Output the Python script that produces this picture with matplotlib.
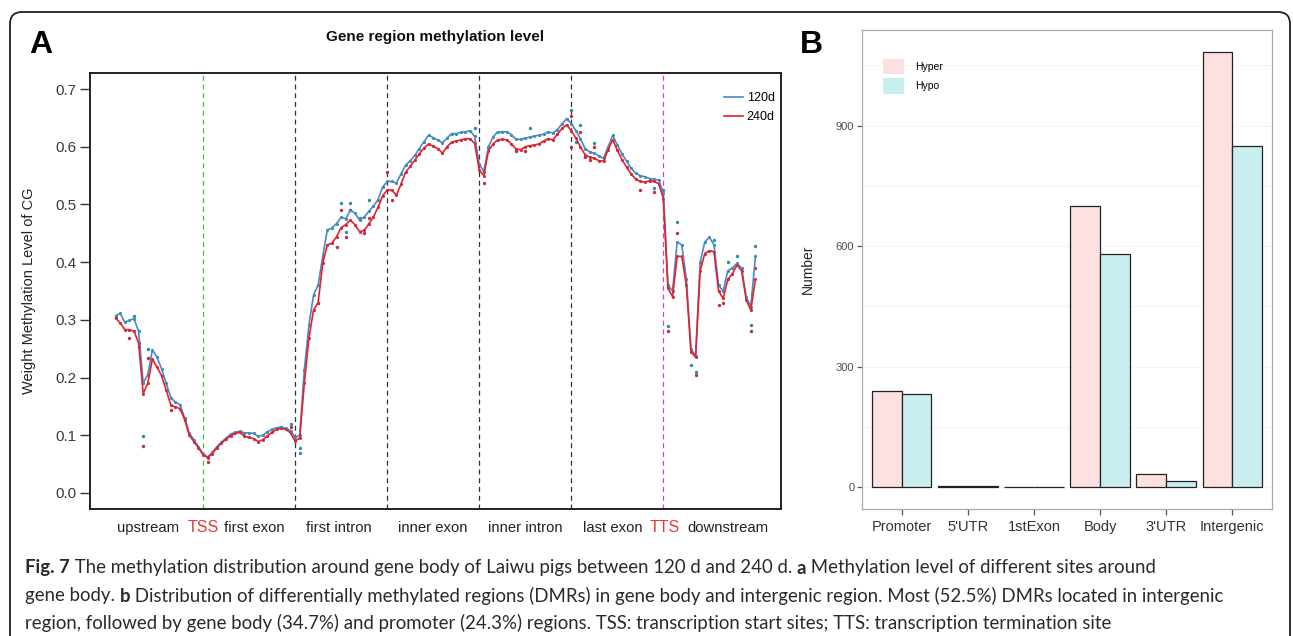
import matplotlib
matplotlib.use("Agg")
import matplotlib.pyplot as plt
from matplotlib.patches import FancyBboxPatch
import matplotlib.transforms as mtransforms
import numpy as np

plt.rcParams["font.family"] = ["Liberation Sans", "DejaVu Sans"]

# ---- panel A data: 140 bins across the gene model ----
bins = np.arange(1, 141)

meth_120d = [
    0.307, 0.311, 0.296, 0.299, 0.302, 0.280, 0.190, 0.205, 0.248, 0.235,
    0.215, 0.190, 0.165, 0.157, 0.153, 0.130, 0.104, 0.092, 0.080, 0.068,
    0.062, 0.070, 0.080, 0.088, 0.095, 0.102, 0.105, 0.107, 0.104, 0.104,
    0.103, 0.098, 0.100, 0.106, 0.110, 0.113, 0.114, 0.112, 0.108, 0.096,
    0.100, 0.213, 0.291, 0.343, 0.360, 0.410, 0.456, 0.459, 0.467, 0.478,
    0.475, 0.490, 0.485, 0.473, 0.478, 0.488, 0.497, 0.508, 0.530, 0.540,
    0.540, 0.537, 0.553, 0.568, 0.576, 0.585, 0.597, 0.609, 0.620, 0.616,
    0.612, 0.607, 0.615, 0.623, 0.623, 0.625, 0.626, 0.628, 0.618, 0.570,
    0.557, 0.600, 0.617, 0.626, 0.626, 0.626, 0.621, 0.613, 0.613, 0.615,
    0.617, 0.619, 0.620, 0.622, 0.626, 0.624, 0.630, 0.640, 0.649, 0.640,
    0.628, 0.614, 0.597, 0.591, 0.589, 0.584, 0.580, 0.600, 0.620, 0.603,
    0.588, 0.575, 0.563, 0.554, 0.550, 0.548, 0.545, 0.544, 0.542, 0.520,
    0.360, 0.350, 0.435, 0.430, 0.370, 0.250, 0.237, 0.400, 0.435, 0.443,
    0.430, 0.360, 0.350, 0.385, 0.390, 0.398, 0.390, 0.340, 0.323, 0.410,
]

meth_240d = [
    0.303, 0.295, 0.283, 0.283, 0.280, 0.260, 0.172, 0.190, 0.232, 0.218,
    0.203, 0.178, 0.152, 0.149, 0.146, 0.127, 0.100, 0.089, 0.078, 0.066,
    0.061, 0.068, 0.078, 0.086, 0.093, 0.099, 0.103, 0.105, 0.098, 0.096,
    0.094, 0.089, 0.092, 0.099, 0.105, 0.110, 0.112, 0.110, 0.104, 0.090,
    0.095, 0.190, 0.268, 0.317, 0.330, 0.398, 0.430, 0.433, 0.444, 0.460,
    0.465, 0.473, 0.465, 0.453, 0.455, 0.466, 0.478, 0.495, 0.515, 0.525,
    0.525, 0.516, 0.535, 0.556, 0.566, 0.577, 0.588, 0.598, 0.605, 0.601,
    0.597, 0.589, 0.600, 0.608, 0.610, 0.612, 0.614, 0.614, 0.606, 0.560,
    0.550, 0.593, 0.605, 0.612, 0.613, 0.612, 0.605, 0.596, 0.595, 0.600,
    0.602, 0.603, 0.605, 0.610, 0.614, 0.612, 0.622, 0.632, 0.638, 0.628,
    0.615, 0.600, 0.586, 0.582, 0.580, 0.576, 0.575, 0.595, 0.612, 0.594,
    0.578, 0.565, 0.553, 0.544, 0.540, 0.539, 0.541, 0.540, 0.536, 0.510,
    0.355, 0.340, 0.410, 0.410, 0.360, 0.245, 0.235, 0.385, 0.415, 0.420,
    0.418, 0.350, 0.337, 0.370, 0.380, 0.395, 0.385, 0.335, 0.317, 0.370,
]

# raw points that sit away from the smoothed lines
dots_120d_x = [5, 7, 8, 39, 41, 41, 50, 51, 52, 54, 56, 79, 91, 100, 101, 102,
               105, 118, 120, 121, 123, 126, 127, 131, 134, 136, 139, 140]
dots_120d_y = [0.307, 0.099, 0.250, 0.120, 0.077, 0.069, 0.503, 0.453, 0.503,
               0.476, 0.507, 0.632, 0.632, 0.664, 0.609, 0.638, 0.606, 0.528,
               0.525, 0.290, 0.470, 0.222, 0.210, 0.438, 0.401, 0.410, 0.291,
               0.428]
dots_240d_x = [4, 6, 7, 8, 13, 21, 39, 45, 49, 50, 51, 52, 55, 56, 60, 61, 81,
               88, 90, 100, 100, 102, 103, 104, 105, 115, 118, 121, 123, 127,
               132, 133, 139, 140]
dots_240d_y = [0.268, 0.253, 0.082, 0.233, 0.144, 0.054, 0.115, 0.329, 0.427,
               0.490, 0.444, 0.490, 0.450, 0.476, 0.557, 0.508, 0.537, 0.592,
               0.592, 0.653, 0.600, 0.626, 0.583, 0.577, 0.600, 0.525, 0.522,
               0.280, 0.450, 0.204, 0.326, 0.330, 0.281, 0.390]

boundaries = [20, 40, 60, 80, 100, 120]
boundary_colors = ["#44c044", "#333333", "#333333", "#333333", "#333333", "#d040d8"]

region_labels = ["upstream", "TSS", "first exon", "first intron", "inner exon",
                 "inner intron", "last exon", "TTS", "downstream"]
region_label_pos = [8, 20, 31.2, 49.5, 70, 90, 109, 120.3, 134]
region_label_colors = ["#222222", "#e03a3a", "#222222", "#222222", "#222222",
                       "#222222", "#222222", "#e03a3a", "#222222"]

# ---- panel B data ----
regions = ["Promoter", "5'UTR", "1stExon", "Body", "3'UTR", "Intergenic"]
dmr_hyper = [240, 3, 1, 700, 32, 1084]
dmr_hypo = [231, 2, 1, 581, 16, 850]

blue = "#4a88c8"
red = "#e8202a"
blue_dot = "#2a8e9c"
red_dot = "#b8304a"

fig = plt.figure(figsize=(12.93, 6.36), dpi=100)
W, H = 1293, 636

# ---------------- panel A ----------------
axA = fig.add_axes([90 / W, 1 - 509 / H, 691 / W, 436 / H])
for b, c in zip(boundaries, boundary_colors):
    axA.axvline(b, color=c, linestyle=(0, (4, 3)), linewidth=0.9, zorder=1)

axA.scatter(bins, meth_120d, s=5, color=blue_dot, linewidths=0, zorder=2)
axA.scatter(bins, meth_240d, s=5, color=red_dot, linewidths=0, zorder=2)
axA.scatter(dots_120d_x, dots_120d_y, s=6, color=blue_dot, linewidths=0, zorder=2)
axA.scatter(dots_240d_x, dots_240d_y, s=6, color=red_dot, linewidths=0, zorder=2)
axA.plot(bins, meth_120d, color=blue, linewidth=1.2, label="120d", zorder=3)
axA.plot(bins, meth_240d, color=red, linewidth=1.2, label="240d", zorder=3)

axA.set_xlim(1 - 0.04 * 139, 140 + 0.04 * 139)
axA.set_ylim(-0.028, 0.728)
axA.set_xticks([])
axA.set_yticks(np.arange(0, 0.71, 0.1), [f"{v:.1f}" for v in np.arange(0, 0.71, 0.1)])
axA.tick_params(axis="y", direction="out", length=7, width=1.0, color="#333333",
                labelsize=11, labelcolor="#3a3a3a", pad=3)
for sp in axA.spines.values():
    sp.set_linewidth(1.4)
    sp.set_color("#222222")
axA.set_ylabel("Weight Methylation Level of CG", fontsize=10.5, color="#222222")
axA.yaxis.set_label_coords((36 - 90) / 691, 0.5)

trans = mtransforms.blended_transform_factory(axA.transData, axA.transAxes)
for lab, xp, col in zip(region_labels, region_label_pos, region_label_colors):
    axA.text(xp, (509 - 528) / 436, lab, transform=trans, ha="center", va="center",
             fontsize=10.7 if lab not in ("TSS", "TTS") else 11.5, color=col)

axA.legend(loc="upper right", frameon=False, fontsize=9, handlelength=1.5,
           handletextpad=0.3, labelspacing=0.55, bbox_to_anchor=(1.0, 0.97),
           borderaxespad=0.1)

fig.text(435 / W, 1 - 37 / H, "Gene region methylation level", ha="center",
         va="center", fontsize=11, fontweight="bold", color="#111111")
fig.text(41 / W, 1 - 45 / H, "A", ha="center", va="center", fontsize=23,
         fontweight="bold")

# ---------------- panel B ----------------
axB = fig.add_axes([862 / W, 1 - 509 / H, 410 / W, 479 / H])
pos = np.arange(1, len(regions) + 1)
axB.bar(pos - 0.225, dmr_hyper, width=0.45, color="#fde0e0", edgecolor="#222222",
        linewidth=0.9, label="Hyper", zorder=3)
axB.bar(pos + 0.225, dmr_hypo, width=0.45, color="#c8eef0", edgecolor="#222222",
        linewidth=0.9, label="Hypo", zorder=3)
top = max(dmr_hyper)
axB.set_xlim(0.4, 6.6)
axB.set_ylim(-0.05 * top, 1.05 * top)
axB.set_xticks(pos, regions)
axB.set_yticks([0, 300, 600, 900])
axB.set_yticks([150, 450, 750, 1050], minor=True)
axB.grid(axis="y", which="both", color="#f4f4f4", linewidth=0.8, zorder=0)
axB.tick_params(axis="y", which="minor", length=0)
axB.tick_params(axis="x", labelsize=10.5, labelcolor="#333333", color="#555555",
                length=4, width=0.9, pad=4)
axB.tick_params(axis="y", labelsize=8, labelcolor="#4d4d4d", color="#555555",
                length=3.5, width=0.9, pad=2)
for sp in axB.spines.values():
    sp.set_color("#aaaaaa")
    sp.set_linewidth(0.9)
axB.set_ylabel("Number", fontsize=10, color="#222222")
axB.yaxis.set_label_coords((815 - 862) / 410, 0.5)
axB.legend(loc="upper left", frameon=False, fontsize=7.5, handlelength=2.1,
           handleheight=1.9, handletextpad=1.0, labelspacing=0.35,
           bbox_to_anchor=(0.04, 0.948), borderaxespad=0.0)
for h in axB.get_legend().get_patches():
    h.set_edgecolor("none")

fig.text(811 / W, 1 - 45 / H, "B", ha="center", va="center", fontsize=23,
         fontweight="bold")

# ---------------- frame and caption ----------------
frame = FancyBboxPatch((10, -60), 1280, H - 12 + 60,
                       boxstyle="round,pad=0,rounding_size=12",
                       transform=mtransforms.IdentityTransform(),
                       fill=False, edgecolor="#222222", linewidth=1.3)
fig.add_artist(frame)

caption = [
    [("Fig. 7", True),
     (" The methylation distribution around gene body of Laiwu pigs between 120 d and 240 d. ", False),
     ("a", True), (" Methylation level of different sites around", False)],
    [("gene body. ", False), ("b", True),
     (" Distribution of differentially methylated regions (DMRs) in gene body and intergenic region. Most (52.5%) DMRs located in intergenic", False)],
    [("region, followed by gene body (34.7%) and promoter (24.3%) regions. TSS: transcription start sites; TTS: transcription termination site", False)],
]
caption_y = [568, 596, 623]
caption_span = [1205, 1198, 1040]
cap_family = ["Lato", "DejaVu Sans"]

renderer = fig.canvas.get_renderer()


def run_width(runs, size):
    total = 0
    for s, bold in runs:
        t = fig.text(0, 0, s, fontsize=size, family=cap_family,
                     fontweight="bold" if bold else "normal")
        total += t.get_window_extent(renderer).width
        t.remove()
    return total


# one size for all caption lines, small enough that none runs past the frame
base = 12
cap_size = min(base * span / run_width(runs, base)
               for runs, span in zip(caption[:2], caption_span[:2]))

for runs, yp in zip(caption, caption_y):
    xp = 25 / W
    for s, bold in runs:
        t = fig.text(xp, 1 - yp / H, s, ha="left", va="center", fontsize=cap_size,
                     family=cap_family,
                     fontweight="bold" if bold else "normal", color="#2a2a2a")
        xp += t.get_window_extent(renderer).width / W

fig.savefig("out.png", dpi=100)
